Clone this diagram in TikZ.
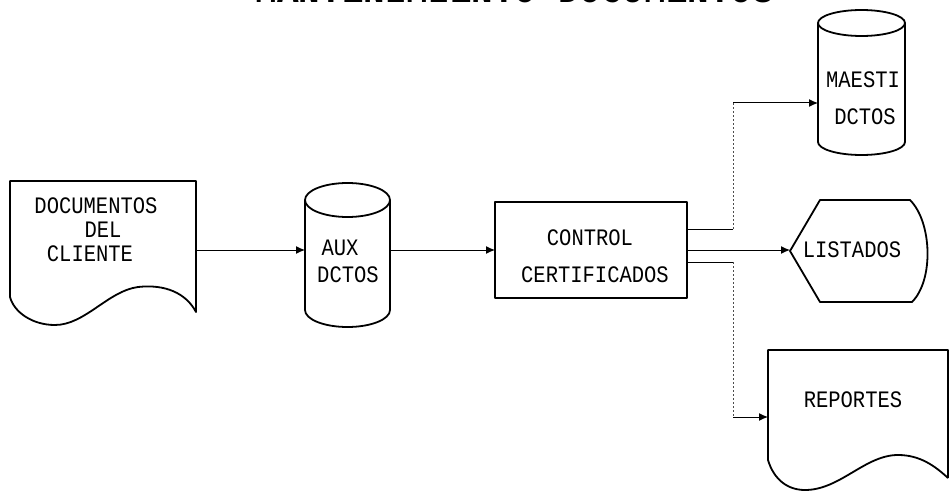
\documentclass[tikz,border=0pt]{standalone}
\usepackage{fontspec}
\newfontfamily\dotfont{Liberation Mono}
\usetikzlibrary{arrows.meta}
\newcommand{\tx}[1]{\scalebox{1}[1.15]{#1}}
\begin{document}
\begin{tikzpicture}[x=1pt,y=-1pt,
 shp/.style={line width=1.8pt, line join=round},
 bbox/.style={inner sep=0pt, outer sep=0pt},
 lbl/.style={font=\dotfont\fontsize{20.5}{24}\selectfont, inner sep=0pt},
 conn/.style={line width=1pt},
 tip/.style={-{Latex[length=9pt,width=8pt]}},
 dotl/.style={line width=0.8pt, dash pattern=on 2pt off 2pt, black!70}]

\useasboundingbox (0,0) rectangle (951,492);
\clip (0,0) rectangle (951,492);
\fill[white] (0,0) rectangle (951,492);

% title (cut off at the top edge, as in the reference)
\node[font=\dotfont\bfseries\fontsize{36}{40}\selectfont, anchor=base, inner sep=0pt] (title) at (515,2.5) {\tx{MANTENIMIENTO DOCUMENTOS}};

% document: DOCUMENTOS DEL CLIENTE
\node[bbox, minimum width=186pt, minimum height=144pt] (doc) at (103,253) {};
\draw[shp] (10,181) -- (196,181) -- (196,312) .. controls (186,293) and (165,284) .. (138,287) .. controls (108,291) and (85,325) .. (55,325) .. controls (32,325) and (14,312) .. (10,297) -- cycle;
\node[lbl] (doct1) at (96,206) {\tx{DOCUMENTOS}};
\node[lbl] (doct2) at (103,230) {\tx{DEL}};
\node[lbl] (doct3) at (90,254) {\tx{CLIENTE}};

% cylinder AUX DCTOS
\node[bbox, minimum width=85pt, minimum height=145pt] (aux) at (347.5,254.5) {};
\draw[shp] (305,200) -- (305,310) arc[start angle=180,end angle=360,x radius=42.5pt,y radius=17pt] -- (390,200);
\draw[shp] (347.5,200) ellipse[x radius=42.5pt, y radius=17pt];
\node[lbl] (auxt1) at (340,248) {\tx{AUX}};
\node[lbl] (auxt2) at (348,275) {\tx{DCTOS}};

% process box
\node[shp, draw, bbox, minimum width=192pt, minimum height=96pt] (ctrl) at (591,250) {};
\node[lbl] (ctrlt1) at (590,238) {\tx{CONTROL}};
\node[lbl] (ctrlt2) at (595,275) {\tx{CERTIFICADOS}};

% cylinder MAESTI DCTOS
\node[bbox, minimum width=87pt, minimum height=145pt] (maes) at (861.5,82.5) {};
\draw[shp] (818,23) -- (818,142) arc[start angle=180,end angle=360,x radius=43.5pt,y radius=13pt] -- (905,23);
\draw[shp] (861.5,23) ellipse[x radius=43.5pt, y radius=13pt];
\node[lbl] (maest1) at (863,80) {\tx{MAESTI}};
\node[lbl] (maest2) at (865,117) {\tx{DCTOS}};

% display LISTADOS
\node[bbox, minimum width=140pt, minimum height=102pt] (list) at (860,251) {};
\draw[shp] (790,251) -- (820,200) -- (910,200) .. controls (932,222) and (934,280) .. (912,302) -- (820,302) -- cycle;
\node[lbl] (listt) at (852,250) {\tx{LISTADOS}};

% document REPORTES
\node[bbox, minimum width=180pt, minimum height=140pt] (rep) at (858,420) {};
\draw[shp] (948,478) -- (948,350) -- (768,350) -- (768,460) .. controls (774,480) and (788,490) .. (805,490) .. controls (840,490) and (865,455) .. (898,455) .. controls (920,455) and (935,466) .. (948,478);
\node[lbl] (rept) at (853,400) {\tx{REPORTES}};

% connectors
\coordinate (ja) at (733,229);
\coordinate (jb) at (733,103);
\coordinate (jc) at (733,262);
\coordinate (jd) at (733,417);
\draw[conn,tip] (doc.east |- ctrl.west) -- (aux.west |- ctrl.west);
\draw[conn,tip] (aux.east |- ctrl.west) -- (ctrl.west);
\draw[conn] ([yshift=21pt]ctrl.east) -- (ja);
\draw[dotl] (ja) -- (jb);
\draw[conn,tip] (jb) -- (jb -| maes.west);
\draw[conn,tip] (ctrl.east) -- (ctrl.east -| list.west);
\draw[conn] ([yshift=-12pt]ctrl.east) -- (jc);
\draw[dotl] (jc) -- (jd);
\draw[conn,tip] (jd) -- (jd -| rep.west);
\end{tikzpicture}
\end{document}
